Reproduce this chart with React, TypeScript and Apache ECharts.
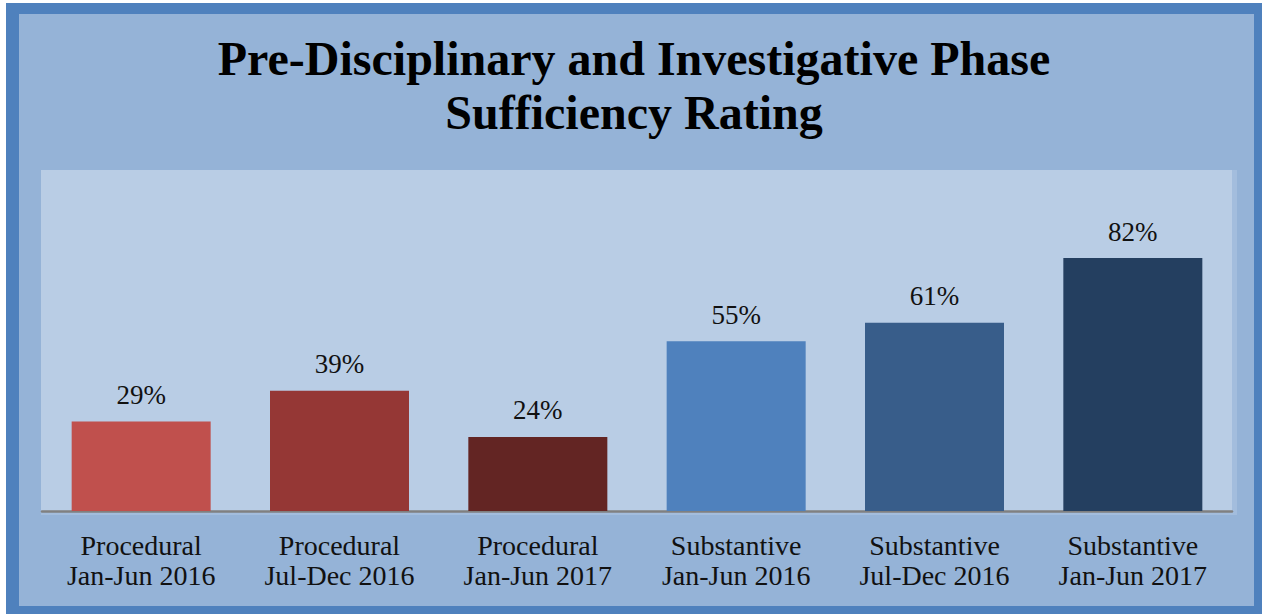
import React, { useEffect, useRef } from "react";
import * as echarts from "echarts";

const categories = [
  "Procedural\nJan-Jun 2016",
  "Procedural\nJul-Dec 2016",
  "Procedural\nJan-Jun 2017",
  "Substantive\nJan-Jun 2016",
  "Substantive\nJul-Dec 2016",
  "Substantive\nJan-Jun 2017",
];
const values = [29, 39, 24, 55, 61, 82];
const barColors = ["#c0504d", "#953735", "#632523", "#4f81bd", "#385d8a", "#243f60"];
const titleText = "Pre-Disciplinary and Investigative Phase\nSufficiency Rating";

const FONT = "'Liberation Serif', 'Times New Roman', serif";

export default function App() {
  const ref = useRef<HTMLDivElement>(null);
  useEffect(() => {
    if (!ref.current) return;
    const chart = echarts.init(ref.current, null, { renderer: "svg" });
    chart.setOption({
      animation: false,
      backgroundColor: "#ffffff",
      graphic: [
        { type: "rect", z: -10, shape: { x: 6, y: 3, width: 1256, height: 611 }, style: { fill: "#4f81bd" }, silent: true },
        { type: "rect", z: -9, shape: { x: 19, y: 14, width: 1235, height: 592 }, style: { fill: "#95b3d7" }, silent: true },
        { type: "rect", z: -8, shape: { x: 41, y: 170, width: 1196, height: 345 }, style: { fill: "#a3bddd" }, silent: true },
        { type: "rect", z: -7, shape: { x: 41, y: 170, width: 1191, height: 341 }, style: { fill: "#b9cde5" }, silent: true },
      ],
      title: {
        text: titleText,
        left: "center",
        top: 26,
        textStyle: {
          fontFamily: FONT,
          fontSize: 48,
          fontWeight: "bold",
          lineHeight: 54,
          color: "#000000",
        },
      },
      grid: { left: 42, right: 36, top: 202.5, bottom: 105, containLabel: false },
      xAxis: {
        type: "category",
        data: categories,
        axisLine: { show: true, lineStyle: { color: "#808080", width: 2.5 } },
        axisTick: { show: false },
        axisLabel: {
          fontFamily: FONT,
          fontSize: 28,
          lineHeight: 30,
          color: "#111111",
          margin: 19,
          interval: 0,
        },
      },
      yAxis: {
        type: "value",
        min: 0,
        max: 100,
        show: false,
        splitLine: { show: false },
      },
      series: [
        {
          type: "bar",
          barWidth: 139,
          data: values.map((v, i) => ({ value: v, itemStyle: { color: barColors[i] } })),
          label: {
            show: true,
            position: "top",
            distance: 13,
            formatter: "{c}%",
            fontFamily: FONT,
            fontSize: 27,
            color: "#111111",
          },
        },
      ],
    });
    return () => chart.dispose();
  }, []);
  return (
    <div
      ref={ref}
      style={{ position: "fixed", left: 0, top: 0, width: 1268, height: 616 }}
    />
  );
}
